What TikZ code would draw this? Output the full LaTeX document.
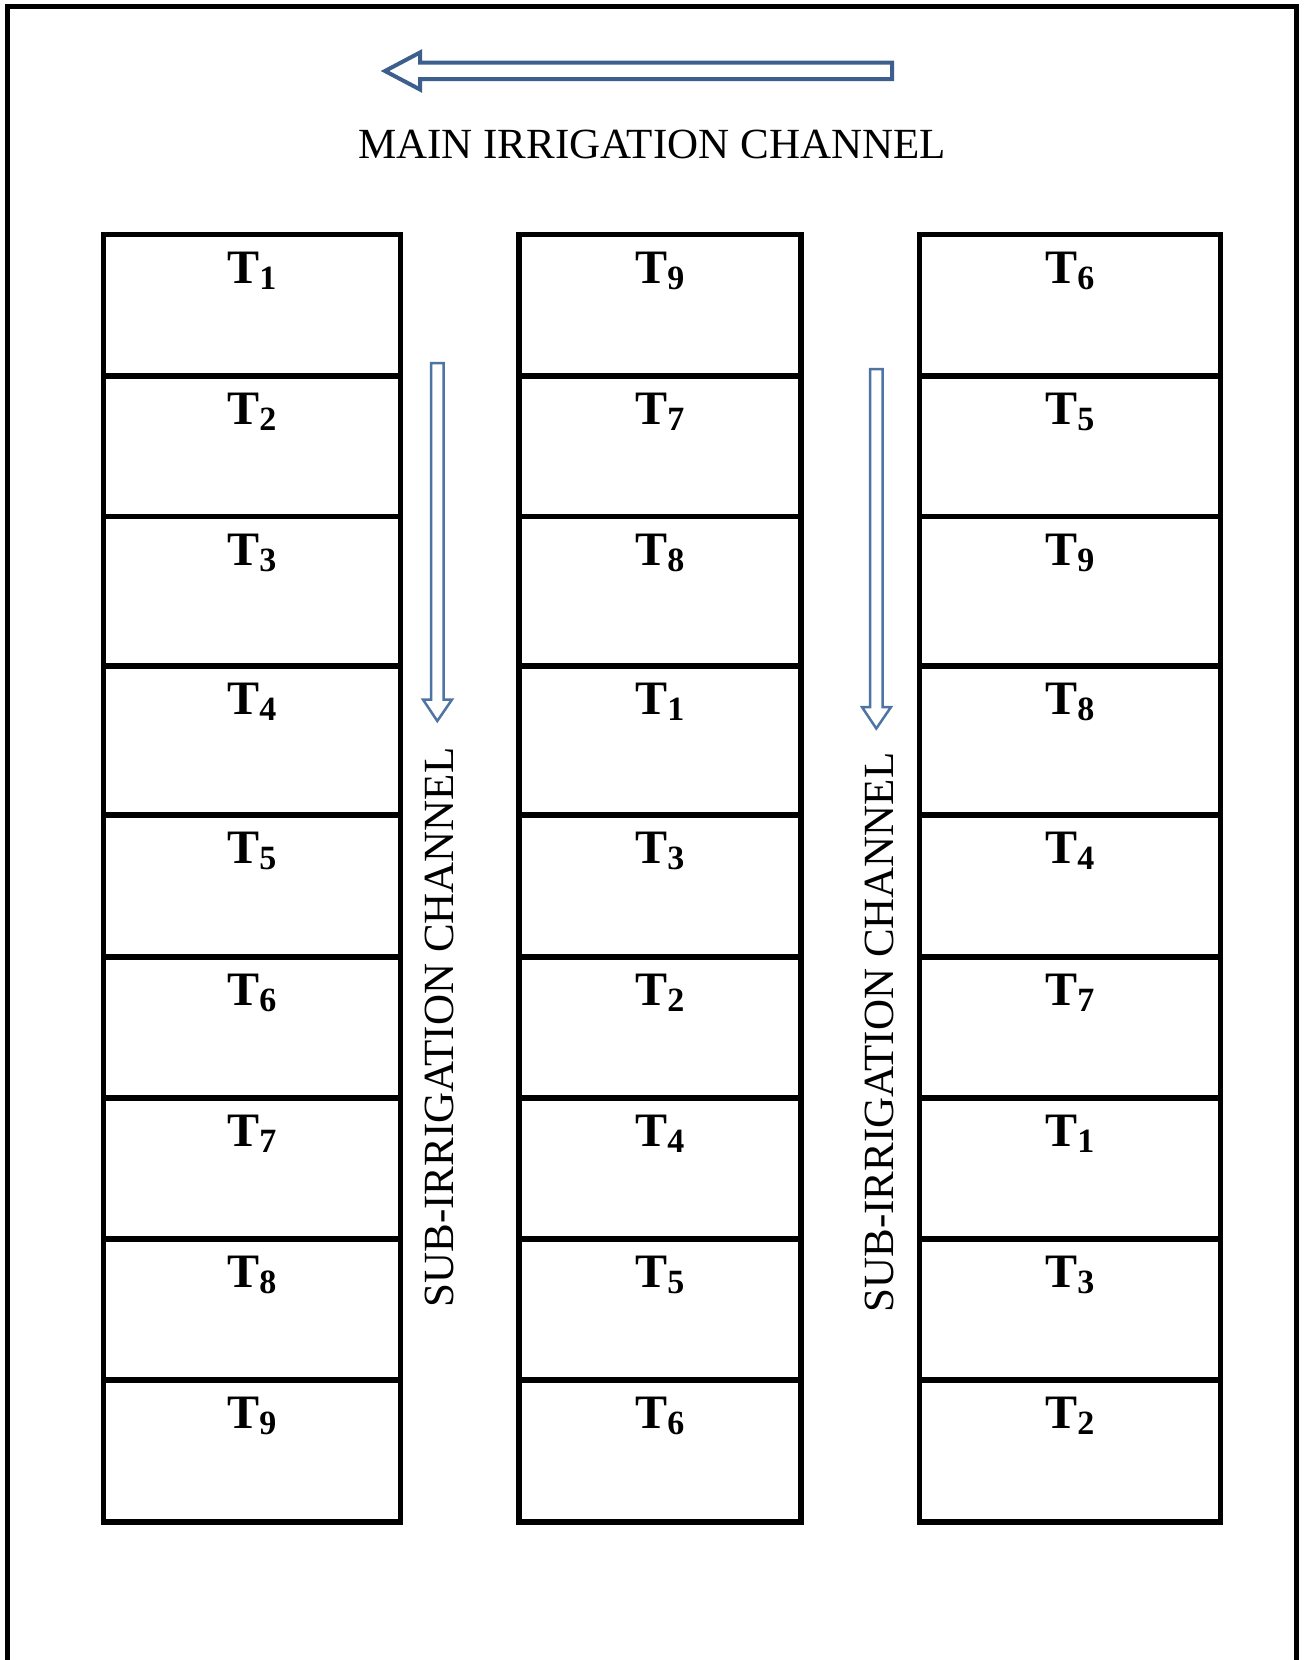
\documentclass[tikz,border=0pt]{standalone}
\usepackage{fontspec}
\setmainfont{Liberation Serif}
\definecolor{arrowblue}{HTML}{3C5F8D}
\definecolor{subblue}{HTML}{4F74A3}
\newcommand\Tsub[1]{T\kern-0.5pt\raisebox{-6pt}{\fontsize{34}{34}\selectfont #1}}
\begin{document}
\begin{tikzpicture}[x=1pt,y=-1pt,
  plot/.style={draw, line width=5.2pt, rectangle, inner sep=0pt, outer sep=0pt},
  lab/.style={anchor=base, inner sep=0pt, font=\fontsize{48}{50}\selectfont\bfseries},
  chan/.style={inner sep=0pt, font=\fontsize{43}{50}\selectfont},
  mainarrow/.style={draw=arrowblue, line width=4pt, fill=white},
  subarrow/.style={draw=subblue, line width=2.5pt, fill=white}]
\useasboundingbox (0,0) rectangle (1306,1660);
\fill[white] (0,0) rectangle (1306,1660);
% outer frame (open at the bottom)
\draw[line width=5pt] (7.5,1660) -- (7.5,6.5) -- (1296.7,6.5) -- (1296.7,1660);
% main channel arrow
\draw[mainarrow] (385,71) -- (420,52.5) -- (420,62.5) -- (892,62.5) -- (892,79) -- (420,79) -- (420,89.5) -- cycle;
\node[chan, anchor=base] (main) at (652,158.5) {MAIN IRRIGATION CHANNEL};
% sub channel arrows
\draw[subarrow] (437.3,721) -- (423,699.5) -- (431,699.5) -- (431,363) -- (443.5,363) -- (443.5,699.5) -- (452,699.5) -- cycle;
\draw[subarrow] (876.3,728.5) -- (862,707) -- (870,707) -- (870,369) -- (882.5,369) -- (882.5,707) -- (891,707) -- cycle;
\node[chan, rotate=90] (sub1) at (439.5,1027.5) {SUB-IRRIGATION CHANNEL};
\node[chan, rotate=90] (sub2) at (879.5,1032.5) {SUB-IRRIGATION CHANNEL};
% column 1
\foreach \n [count=\r] in {1,2,3,4,5,6,7,8,9} {
  \pgfmathsetmacro\yt{{234.5,376,516.5,666,815,957,1098,1239,1380}[\r-1]}
  \pgfmathsetmacro\yb{{376,516.5,666,815,957,1098,1239,1380,1522}[\r-1]}
  \node[plot, minimum width=297pt, minimum height={\yb-\yt}] (pa\r) at (252,{(\yt+\yb)/2}) {};
  \node[lab] (ta\r) at ([yshift=-48.5pt]pa\r.north) {\Tsub{\n}};
}
% column 2
\foreach \n [count=\r] in {9,7,8,1,3,2,4,5,6} {
  \pgfmathsetmacro\yt{{234.5,376,516.5,666,815,957,1098,1239,1380}[\r-1]}
  \pgfmathsetmacro\yb{{376,516.5,666,815,957,1098,1239,1380,1522}[\r-1]}
  \node[plot, minimum width=282pt, minimum height={\yb-\yt}] (pb\r) at (660,{(\yt+\yb)/2}) {};
  \node[lab] (tb\r) at ([yshift=-48.5pt]pb\r.north) {\Tsub{\n}};
}
% column 3
\foreach \n [count=\r] in {6,5,9,8,4,7,1,3,2} {
  \pgfmathsetmacro\yt{{234.5,376,516.5,666,815,957,1098,1239,1380}[\r-1]}
  \pgfmathsetmacro\yb{{376,516.5,666,815,957,1098,1239,1380,1522}[\r-1]}
  \node[plot, minimum width=301pt, minimum height={\yb-\yt}] (pc\r) at (1070,{(\yt+\yb)/2}) {};
  \node[lab] (tc\r) at ([yshift=-48.5pt]pc\r.north) {\Tsub{\n}};
}
\end{tikzpicture}
\end{document}
